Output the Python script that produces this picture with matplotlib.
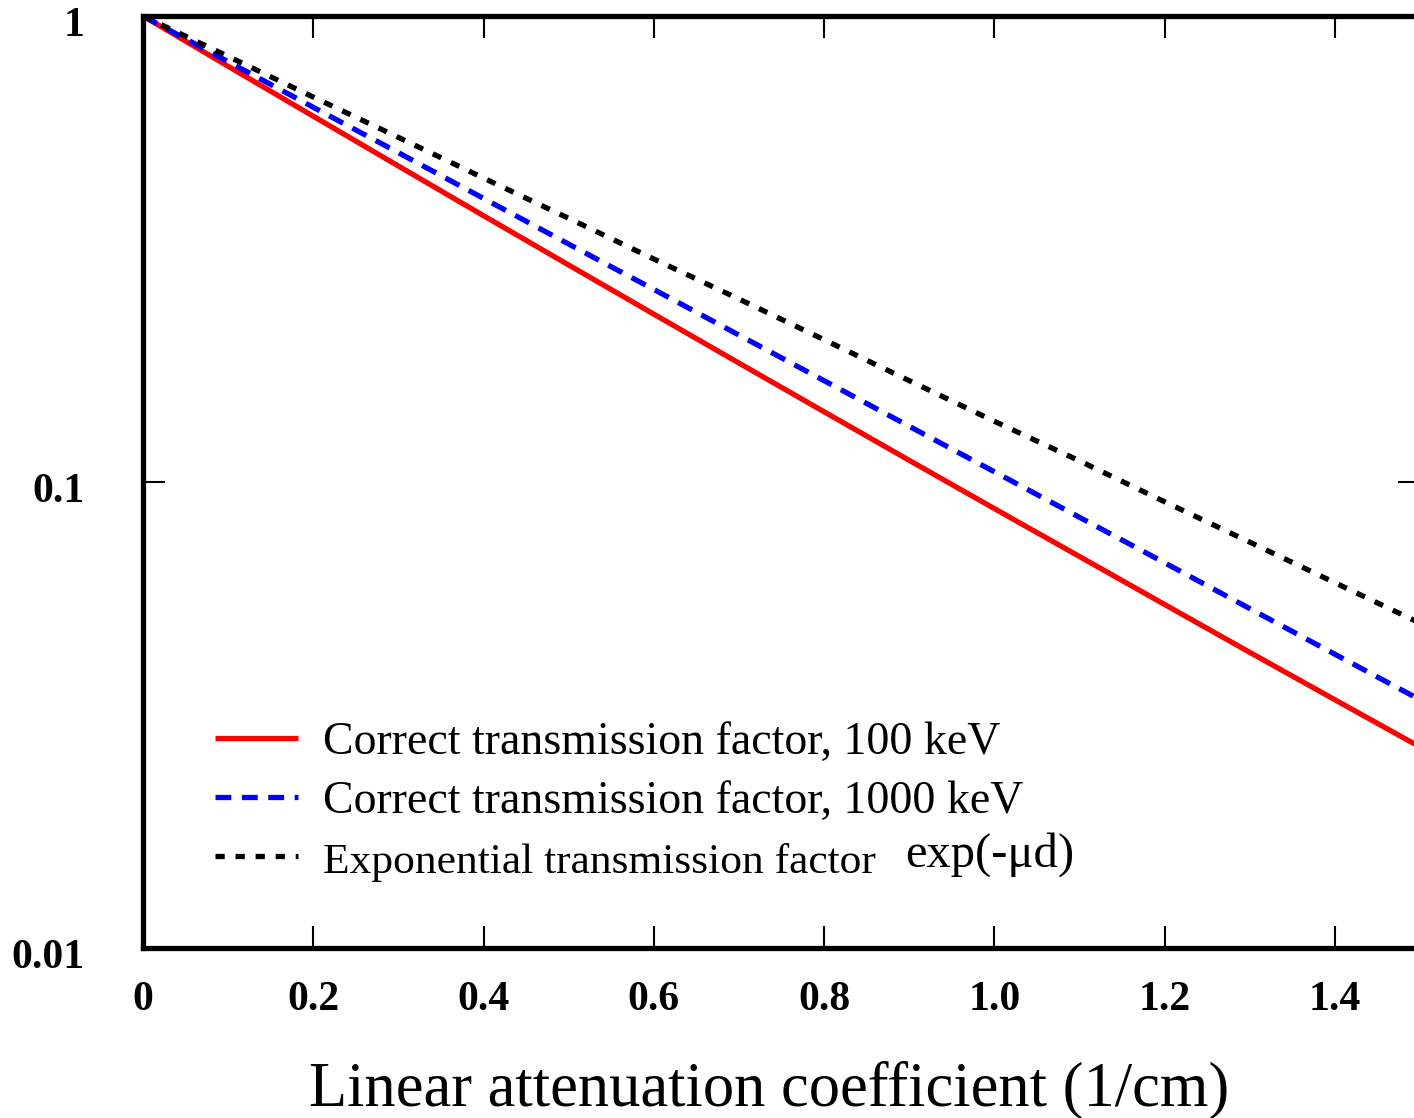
import numpy as np
import matplotlib
matplotlib.use("Agg")
import matplotlib.pyplot as plt
import matplotlib.transforms as mtransforms
from matplotlib.ticker import FixedLocator, FixedFormatter, NullLocator

# linear attenuation coefficient (1/cm)
mu = [0.0, 0.1, 0.2, 0.3, 0.4, 0.5, 0.6, 0.7, 0.8, 0.9, 1.0, 1.1, 1.2, 1.3, 1.4, 1.5]

t_100kev = [1.0, 0.780, 0.6095, 0.4765, 0.3728, 0.2922, 0.2292, 0.1800, 0.1415, 0.1113,
            0.0877, 0.0692, 0.0546, 0.0431, 0.0341, 0.0270]
t_1000kev = [1.0, 0.798, 0.637, 0.509, 0.406, 0.324, 0.259, 0.2067, 0.1650, 0.1317,
             0.1052, 0.0840, 0.0671, 0.0535, 0.0427, 0.0341]
t_exp = [1.0, 0.819, 0.670, 0.549, 0.449, 0.368, 0.301, 0.247, 0.202, 0.165,
         0.135, 0.111, 0.0907, 0.0743, 0.0608, 0.0498]

labels = ["Correct transmission factor, 100 keV",
          "Correct transmission factor, 1000 keV",
          "Exponential transmission factor"]

xticks = [0, 0.2, 0.4, 0.6, 0.8, 1.0, 1.2, 1.4]
xticklabels = ["0", "0.2", "0.4", "0.6", "0.8", "1.0", "1.2", "1.4"]
yticks = [0.01, 0.1, 1]
yticklabels = ["0.01", "0.1", "1"]

plt.rcParams['font.family'] = ['Liberation Serif', 'DejaVu Serif']

fig = plt.figure(figsize=(14.14, 11.18), dpi=100)
W, H = 1414, 1118
ax = fig.add_axes([143 / W, (H - 948) / H, 1277 / W, (948 - 16) / H])

ax.plot(mu, t_100kev, color='#ff0000', lw=3.8, solid_capstyle='butt', label=labels[0])
ax.plot(mu, t_1000kev, color='#0000ff', lw=3.8, linestyle=(0, (3.0, 2.0)), label=labels[1])
ax.plot(mu, t_exp, color='black', lw=3.8, linestyle=(0, (1.75, 2.05)), label=labels[2])

ax.set_yscale('log')
ax.set_xlim(0, 1.5)
ax.set_ylim(0.01, 1)

ax.xaxis.set_major_locator(FixedLocator(xticks))
ax.xaxis.set_major_formatter(FixedFormatter(xticklabels))
ax.yaxis.set_major_locator(FixedLocator(yticks))
ax.yaxis.set_major_formatter(FixedFormatter(yticklabels))
ax.yaxis.set_minor_locator(NullLocator())
ax.xaxis.set_minor_locator(NullLocator())

for s in ax.spines.values():
    s.set_linewidth(3.8)
ax.tick_params(which='major', direction='in', top=True, right=True,
               length=16, width=1.5, labelsize=30)
ax.tick_params(axis='x', pad=24)
ax.tick_params(axis='y', pad=42)
# y labels sit a little below their ticks in the original
shift = mtransforms.ScaledTranslation(0, -6 / 100, fig.dpi_scale_trans)
for lab in ax.get_yticklabels():
    lab.set_transform(lab.get_transform() + shift)
for lab in ax.get_xticklabels() + ax.get_yticklabels():
    lab.set_fontweight('bold')

ax.set_xlabel("Linear attenuation coefficient (1/cm)", fontsize=45)
ax.xaxis.set_label_coords((769 - 143) / 1277, -0.1212)
ax.xaxis.label.set_verticalalignment('top')

leg = ax.legend(loc='upper left', bbox_to_anchor=(0.0564, 0.243), frameon=False,
                fontsize=33, handlelength=1.8, handletextpad=0.55,
                labelspacing=0.37, borderpad=0, borderaxespad=0)
leg.get_texts()[2].set_fontsize(31.3)

ax.text((905 - 143) / 1277, (948 - 855) / 932, "exp(-μd)", transform=ax.transAxes,
        fontsize=35, ha='left', va='center')

fig.savefig("out.png", dpi=100)
